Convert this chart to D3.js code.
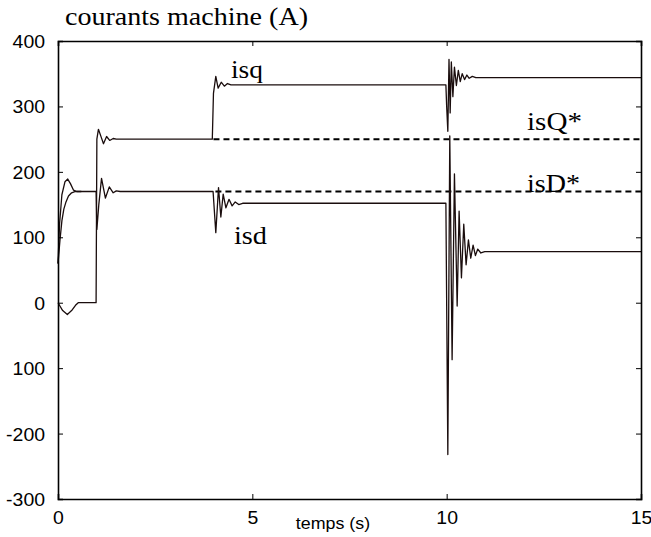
<!DOCTYPE html>
<html>
<head>
<meta charset="utf-8">
<script src="https://cdn.jsdelivr.net/npm/d3@7"></script>
<style>
  html, body { margin: 0; padding: 0; background: #fff; }
  svg { display: block; }
</style>
</head>
<body>
<svg id="chart" width="651" height="537"></svg>
<script>
// ---------- data ----------
const xTicks = [0, 5, 10, 15];
const xTickLabels = ["0", "5", "10", "15"];
const yTicks = [-300, -200, -100, 0, 100, 200, 300, 400];
const yTickLabels = ["-300", "-200", "100", "0", "100", "200", "300", "400"];

// isq : [time (s), current (A)]
const isq = [
  [0, 0], [0.05, -5], [0.12, -12], [0.24, -18], [0.35, -12], [0.45, -4], [0.52, 0],
  [0.98, 0], [1.0, 250], [1.04, 265], [1.1, 255], [1.17, 243], [1.25, 254], [1.33, 248],
  [1.42, 251], [1.5, 250], [3.97, 250], [4.0, 320], [4.06, 346], [4.12, 328], [4.2, 337],
  [4.28, 331], [4.36, 335], [4.45, 333], [9.98, 333], [10.0, 300], [10.03, 262],
  [10.06, 372], [10.09, 290], [10.12, 368], [10.16, 315], [10.2, 360], [10.25, 332],
  [10.3, 355], [10.35, 338], [10.4, 350], [10.46, 341], [10.52, 348], [10.58, 343],
  [10.66, 346], [10.75, 344], [15, 344]
];
// isd
const isd = [
  [0, 60], [0.04, 120], [0.1, 165], [0.18, 185], [0.25, 189], [0.32, 182], [0.4, 172],
  [0.48, 170], [0.98, 170], [1.0, 112], [1.05, 150], [1.12, 190], [1.22, 160], [1.32, 177],
  [1.42, 168], [1.5, 171], [1.6, 170], [3.99, 170], [4.06, 107], [4.13, 176], [4.19, 131],
  [4.25, 166], [4.32, 145], [4.4, 158], [4.48, 148], [4.56, 154], [4.65, 150], [4.75, 152],
  [9.98, 152], [10.03, -232], [10.08, 255], [10.14, -87], [10.2, 197], [10.27, -5],
  [10.32, 140], [10.38, 38], [10.44, 120], [10.5, 58], [10.56, 96], [10.62, 68],
  [10.68, 88], [10.74, 72], [10.8, 82], [10.88, 76], [10.98, 78], [15, 78]
];
// smooth start-up response of isd
const isdStart = [
  [0, 60], [0.05, 95], [0.1, 125], [0.15, 143], [0.2, 153], [0.27, 163], [0.35, 168],
  [0.45, 170], [0.6, 170]
];
// references (dashed)
const isQref = [[4.0, 250], [15, 250]];
const isDref = [[4.05, 170], [15.1, 170]];

// ---------- layout ----------
const svg = d3.select("#chart");
const margin = { left: 58, right: 10, top: 41, bottom: 38 };
const W = 651, H = 537;
const x = d3.scaleLinear().domain([0, 15]).range([margin.left, W - margin.right]);
const y = d3.scaleLinear().domain([-300, 400]).range([H - margin.bottom, margin.top]);

const ink = "#1a0d0d";
const sans = "Arial, 'Liberation Sans', Helvetica, sans-serif";
const serif = "'Times New Roman', 'Liberation Serif', Times, serif";

function stretch(sel, f) {
  sel.each(function () {
    const w = this.getComputedTextLength();
    d3.select(this).attr("textLength", w * f).attr("lengthAdjust", "spacingAndGlyphs");
  });
}

// ---------- lines ----------
const line = d3.line().x(d => x(d[0])).y(d => y(d[1]));
const plot = svg.append("g");

plot.append("path").datum(isQref).attr("d", line)
  .attr("fill", "none").attr("stroke", "#000").attr("stroke-width", 2)
  .attr("stroke-dasharray", "6,4");
plot.append("path").datum(isDref).attr("d", line)
  .attr("fill", "none").attr("stroke", "#000").attr("stroke-width", 2)
  .attr("stroke-dasharray", "6,4");

[isdStart, isq, isd].forEach(s => {
  plot.append("path").datum(s).attr("d", line)
    .attr("fill", "none").attr("stroke", ink).attr("stroke-width", 1.3)
    .attr("stroke-linejoin", "round");
});

// ---------- axes ----------
const axG = svg.append("g");
const tickIn = 5;
const axBottom = axG.append("g").attr("transform", `translate(0,${y(-300)})`)
  .call(d3.axisBottom(x).tickValues(xTicks).tickSize(-tickIn).tickPadding(12)
    .tickFormat((d, i) => xTickLabels[i]));
const axTop = axG.append("g").attr("transform", `translate(0,${y(400)})`)
  .call(d3.axisTop(x).tickValues(xTicks).tickSize(-tickIn).tickFormat(""));
const axLeft = axG.append("g").attr("transform", `translate(${x(0)},0)`)
  .call(d3.axisLeft(y).tickValues(yTicks).tickSize(-tickIn).tickPadding(13)
    .tickFormat((d, i) => yTickLabels[i]));
const axRight = axG.append("g").attr("transform", `translate(${x(15)},0)`)
  .call(d3.axisRight(y).tickValues(yTicks).tickSize(-tickIn).tickFormat(""));

[axBottom, axTop, axLeft, axRight].forEach(g => {
  g.select(".domain").attr("stroke", "#000").attr("stroke-width", 1.6);
  g.selectAll(".tick line").attr("stroke", "#000").attr("stroke-width", 1);
  g.selectAll("text").attr("font-family", sans).attr("font-size", 18).attr("fill", "#000");
});
axLeft.selectAll(".tick text").attr("dy", "0.36em");
axBottom.selectAll(".tick text").attr("dy", "0.71em");
stretch(axLeft.selectAll(".tick text"), 1.08);
stretch(axBottom.selectAll(".tick text"), 1.08);

// ---------- texts ----------
const title = svg.append("text").attr("x", 65).attr("y", 25)
  .attr("font-family", serif).attr("font-size", 25).attr("fill", "#000")
  .text("courants machine (A)");
title.attr("textLength", 243).attr("lengthAdjust", "spacingAndGlyphs");

const xl = svg.append("text").attr("x", 333).attr("y", 529).attr("text-anchor", "middle")
  .attr("font-family", sans).attr("font-size", 16.5).attr("fill", "#000")
  .text("temps (s)");
stretch(xl, 1.08);

const labels = [
  { t: "isq", x: 231, y: 78, w: 32 },
  { t: "isd", x: 234, y: 244, w: 33 },
  { t: "isQ*", x: 527, y: 130, w: 55 },
  { t: "isD*", x: 527, y: 192, w: 53 }
];
labels.forEach(l => {
  svg.append("text").attr("x", l.x).attr("y", l.y)
    .attr("font-family", serif).attr("font-size", 25).attr("fill", "#000")
    .attr("textLength", l.w).attr("lengthAdjust", "spacingAndGlyphs")
    .text(l.t);
});
</script>
</body>
</html>
